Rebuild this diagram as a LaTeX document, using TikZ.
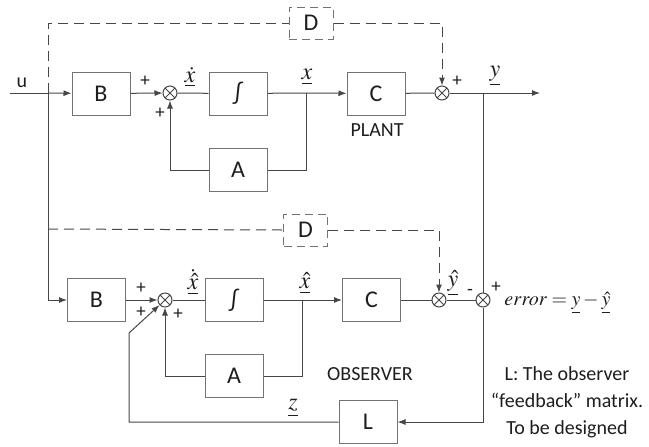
\documentclass[tikz,border=0pt]{standalone}
\usepackage{mathptmx}
\usepackage{fontspec}
\setmainfont{Carlito}
\usetikzlibrary{positioning,arrows.meta}
\definecolor{linegray}{RGB}{70,70,70}
\definecolor{boxgray}{RGB}{115,115,115}
\definecolor{textdark}{RGB}{30,30,30}
\tikzset{
  blk/.style={draw=boxgray,line width=0.5pt,minimum width=29pt,minimum height=21.5pt,
              inner sep=0pt,text=textdark,font=\fontsize{12}{14}\selectfont},
  dblk/.style={blk,dash pattern=on 4pt off 2.5pt,minimum width=22pt,minimum height=16pt},
  sumnode/.style={circle,draw=linegray,line width=0.5pt,minimum size=7pt,inner sep=0pt,
              path picture={\draw[linegray,line width=0.45pt]
                (path picture bounding box.north west) -- (path picture bounding box.south east)
                (path picture bounding box.north east) -- (path picture bounding box.south west);}},
  sig/.style={draw=linegray,line width=0.5pt},
  arr/.style={sig,-{Latex[length=4pt,width=3pt]}},
  dsig/.style={sig,dash pattern=on 5pt off 3pt},
  pm/.style={inner sep=0pt,text=textdark,font=\fontsize{9.5}{10}\selectfont},
  mlbl/.style={inner sep=0pt,text=textdark,font=\fontsize{12}{14}\selectfont},
  lbl/.style={inner sep=0pt,text=textdark,font=\fontsize{10}{12}\selectfont}
}
\begin{document}
\begin{tikzpicture}[x=0.5pt,y=-0.5pt]
  \useasboundingbox (0,0) rectangle (649,446);
  % plant
  \coordinate (uin) at (10,93);
  \coordinate (ju) at (48,93);
  \node[blk] (b1) at (101,93.5) {B};
  \node[sumnode] (s1) at (170,93) {};
  \node[blk] (i1) at (238,93.5) {∫};
  \coordinate (jx) at (306,93);
  \node[blk] (a1) at (238,170) {A};
  \node[blk] (c1) at (376,93.5) {C};
  \node[sumnode] (s2) at (442,93) {};
  \coordinate (jy) at (483,93);
  \coordinate (yout) at (540,93);
  \node[dblk] (d1) at (311,23) {D};

  \node[lbl] (ulbl) at (22,83) {u};
  \node[pm] (p1) at (145,81) {+};
  \node[pm] (p2) at (160,113) {+};
  \node[mlbl] (xdot) at (190,77) {$\underline{\dot{x}}$};
  \node[mlbl] (xlbl) at (307,77) {$\underline{x}$};
  \node[lbl] (plant) at (377,130) {PLANT};
  \node[pm] (p3) at (457,81) {+};
  \node[mlbl] (ylbl) at (495,76) {$\underline{y}$};

  \draw[sig] (uin) -- (ju);
  \draw[arr] (ju) -- (b1);
  \draw[arr] (b1) -- (s1);
  \draw[sig] (s1) -- (i1);
  \draw[sig] (i1) -- (jx);
  \draw[arr] (jx) -- (c1);
  \draw[sig] (jx) |- (a1.east);
  \draw[arr] (a1.west) -| (s1.south);
  \draw[sig] (c1) -- (s2);
  \draw[sig] (s2) -- (jy);
  \draw[arr] (jy) -- (yout);
  \draw[dsig] (ju) |- (d1.west);
  \draw[dsig,-{Latex[length=4pt,width=3pt]}] (d1.east) -| (s2.north);

  % observer
  \coordinate (jd) at (48,229);
  \coordinate (jb) at (48,300);
  \node[blk] (b2) at (96.5,300) {B};
  \node[sumnode] (s4) at (165,300) {};
  \node[blk] (i2) at (234,300) {∫};
  \coordinate (jxh) at (302,300);
  \node[blk] (a2) at (234,376) {A};
  \node[blk] (c2) at (371.5,300) {C};
  \node[sumnode] (s3) at (439,300) {};
  \node[sumnode] (s5) at (483,300) {};
  \node[dblk] (d2) at (305.5,230) {D};
  \node[blk] (l1) at (368,422) {L};
  \coordinate (zc) at (129,422);
  \coordinate (zd) at (129,333);

  \node[pm] (p4) at (141,288) {+};
  \node[pm] (p5) at (141,312) {+};
  \node[pm] (p6) at (178,314) {+};
  \node[mlbl] (xhdot) at (193,282) {$\underline{\dot{\hat{x}}}$};
  \node[mlbl] (xhlbl) at (305,283) {$\underline{\hat{x}}$};
  \node[mlbl] (yhlbl) at (453,283) {$\underline{\hat{y}}$};
  \node[pm] (m1) at (470,292) {-};
  \node[pm] (p7) at (496,287) {+};
  \node[inner sep=0pt,text=textdark,font=\fontsize{10}{12}\selectfont,anchor=west]
    (err) at (504,303) {$error=\underline{y}-\underline{\hat{y}}$};
  \node[lbl] (obs) at (370,374) {OBSERVER};
  \node[mlbl] (zlbl) at (293,408) {$\underline{z}$};
  \node[text=textdark,inner sep=0pt,align=center,font=\fontsize{10}{13.5}\selectfont]
    (note) at (567,402) {L: The observer\\``feedback'' matrix.\\To be designed};

  \draw[sig] (ju) -- (jb);
  \draw[arr] (jb) -- (b2);
  \draw[arr] (b2) -- (s4);
  \draw[sig] (s4) -- (i2);
  \draw[sig] (i2) -- (jxh);
  \draw[arr] (jxh) -- (c2);
  \draw[sig] (jxh) |- (a2.east);
  \draw[arr] (a2.west) -| (s4.south);
  \draw[sig] (c2) -- (s3);
  \draw[sig] (s3) -- (s5);
  \draw[sig] (jy) -- (s5);
  \draw[arr] (s5) |- (l1.east);
  \draw[arr] (l1.west) -- (zc) -- (zd) -- (s4);
  \draw[dsig] (jd) -- (d2.west);
  \draw[dsig,-{Latex[length=4pt,width=3pt]}] (d2.east) -| (s3.north);
\end{tikzpicture}
\end{document}
